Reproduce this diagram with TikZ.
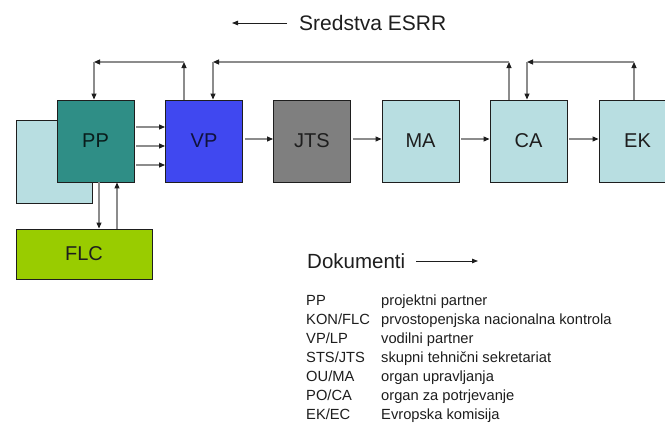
\documentclass[tikz,border=0pt]{standalone}
\usepackage{fontspec}
\setmainfont{Liberation Sans}
\usetikzlibrary{arrows.meta}

\definecolor{ppteal}{HTML}{2F8E86}
\definecolor{paleblue}{HTML}{B8DEE1}
\definecolor{vpblue}{HTML}{4048F0}
\definecolor{jtsgray}{HTML}{7F7F7F}
\definecolor{flcgreen}{HTML}{99CC00}
\definecolor{linkgray}{HTML}{8C8C8C}
\definecolor{inkdark}{HTML}{1E1E1E}

\begin{document}
\begin{tikzpicture}[x=1pt,y=-1pt,
  box/.style={draw=inkdark, line width=0.9pt, minimum width=77pt, minimum height=82pt,
              inner sep=0pt, font=\fontsize{20}{24}\selectfont, text=inkdark},
  link/.style={draw=linkgray, line width=1.1pt,
               -{Triangle[length=6pt,width=5pt,color=inkdark]}},
  plain/.style={draw=inkdark, line width=0.8pt,
               -{Triangle[length=6pt,width=4.5pt,color=inkdark]}},
  label/.style={inner sep=0pt, text=inkdark},
  legend/.style={inner sep=0pt, anchor=base west, text=inkdark,
                 font=\fontsize{14.7}{17}\selectfont}
]
\clip (0,0) rectangle (665,423);
\fill[white] (0,0) rectangle (665,423);

% partner boxes
\node[box, fill=paleblue, minimum width=76pt, minimum height=83pt] (back) at (54,161.5) {};
\node[box, fill=ppteal, text=black!80!ppteal] (pp) at (95.5,141) {PP};
\node[box, fill=vpblue, text=black!75!vpblue] (vp) at (204,141) {VP};
\node[box, fill=jtsgray] (jts) at (312,141) {JTS};
\node[box, fill=paleblue] (ma) at (420.5,141) {MA};
\node[box, fill=paleblue] (ca) at (528.5,141) {CA};
\node[box, fill=paleblue] (ek) at (637.5,141) {EK};
\node[box, fill=flcgreen, minimum width=136pt, minimum height=50pt] (flc) at (84,254) {FLC};

% documents flow, left to right
\foreach \dy in {14,-5,-24}
  \draw[link] ([xshift=2pt,yshift=\dy pt]pp.east) -- ([yshift=\dy pt]vp.west);
\draw[link] ([xshift=2pt,yshift=2pt]vp.east) -- ([yshift=2pt]jts.west);
\draw[link] ([xshift=2pt,yshift=2pt]jts.east) -- ([yshift=2pt]ma.west);
\draw[link] ([xshift=2pt,yshift=2pt]ma.east) -- ([yshift=2pt]ca.west);
\draw[link] ([xshift=2pt,yshift=2pt]ca.east) -- ([yshift=2pt]ek.west);

% funds flow, back over the top
\coordinate (a1) at (184,62);
\coordinate (a2) at (94,62);
\draw[link] (vp.north -| a1) -- (a1);
\draw[link] (a1) -- (a2);
\draw[link] (a2) -- (a2 |- pp.north);

\coordinate (b1) at (509,62);
\coordinate (b2) at (213,62);
\draw[link] (ca.north -| b1) -- (b1);
\draw[link] (b1) -- (b2);
\draw[link] (b2) -- (b2 |- vp.north);

\coordinate (c1) at (634,62);
\coordinate (c2) at (527,62);
\draw[link] (ek.north -| c1) -- (c1);
\draw[link] (c1) -- (c2);
\draw[link] (c2) -- (c2 |- ca.north);

% first level control
\coordinate (fd) at (99,205);
\coordinate (fu) at (117,205);
\draw[link] (pp.south -| fd) -- (flc.north -| fd);
\draw[link] (flc.north -| fu) -- (pp.south -| fu);

% key to the arrows
\node[label, anchor=west, font=\fontsize{21}{25}\selectfont] (funds) at (299,23) {Sredstva ESRR};
\coordinate (fundstip) at (232,23);
\draw[plain] ([xshift=-12pt]funds.west) -- (fundstip);

\node[label, anchor=west, font=\fontsize{20.5}{24}\selectfont] (docs) at (307,261) {Dokumenti};
\coordinate (docstip) at (478,261);
\draw[plain] ([xshift=11pt]docs.east) -- (docstip);

% abbreviations
\node[legend] (k1) at (306,305.3) {PP};
\node[legend] (d1) at (381,305.3) {projektni partner};
\node[legend] (k2) at (306,324.3) {KON/FLC};
\node[legend] (d2) at (381,324.3) {prvostopenjska nacionalna kontrola};
\node[legend] (k3) at (306,343.3) {VP/LP};
\node[legend] (d3) at (381,343.3) {vodilni partner};
\node[legend] (k4) at (306,362.3) {STS/JTS};
\node[legend] (d4) at (381,362.3) {skupni tehnični sekretariat};
\node[legend] (k5) at (306,381.3) {OU/MA};
\node[legend] (d5) at (381,381.3) {organ upravljanja};
\node[legend] (k6) at (306,400.3) {PO/CA};
\node[legend] (d6) at (381,400.3) {organ za potrjevanje};
\node[legend] (k7) at (306,419.3) {EK/EC};
\node[legend] (d7) at (381,419.3) {Evropska komisija};
\end{tikzpicture}
\end{document}
